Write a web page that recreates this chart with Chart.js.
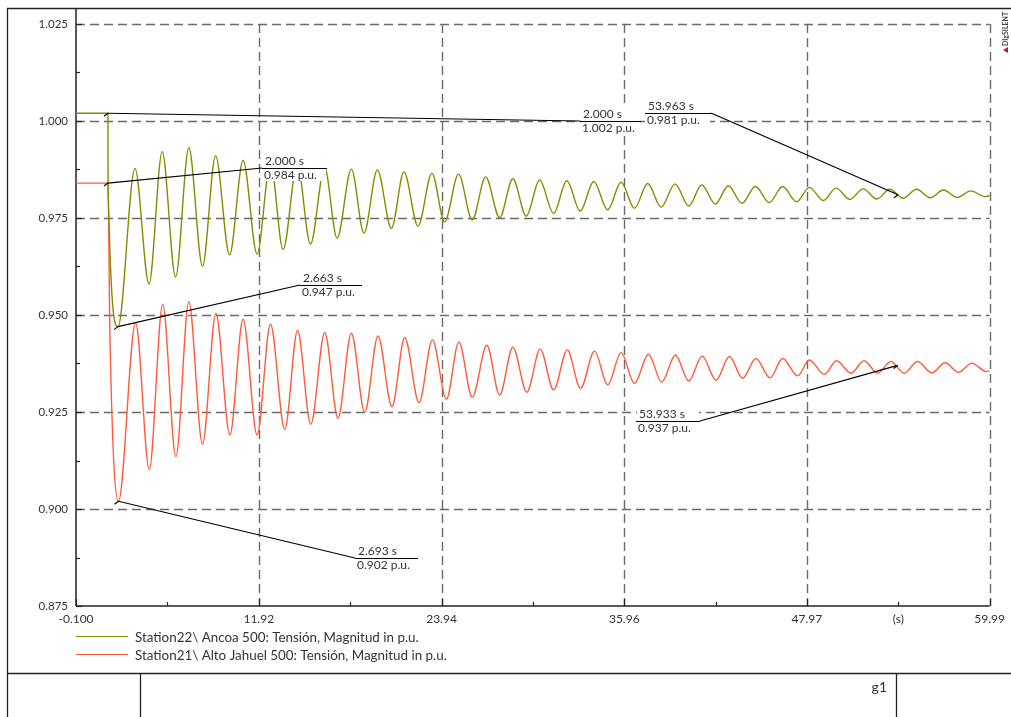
<!DOCTYPE html>
<html>
<head>
<meta charset="utf-8">
<script src="https://cdn.jsdelivr.net/npm/chart.js@4.4.0/dist/chart.umd.min.js"></script>
<style>
  html, body { margin: 0; padding: 0; background: #fff; }
  canvas { display: block; }
</style>
</head>
<body>
<canvas id="plot" width="1011" height="717"></canvas>
<script>
// ---- data (time in s, voltage in p.u.) ----
const seriesNames = [
  "Station22\\ Ancoa 500: Tensión, Magnitud in p.u.",
  "Station21\\ Alto Jahuel 500: Tensión, Magnitud in p.u.",
];

// Ancoa: turning points of the swing
const ancoaT = [
  -0.1, 2.0, 2.01, 2.663, 3.78, 4.70, 5.57, 6.45, 7.32, 8.22, 9.08, 10.00, 10.89, 11.81,
  12.69, 13.52, 14.45, 15.32, 16.25, 17.07, 18.01, 18.84, 19.72, 20.64, 21.47, 22.39,
  23.31, 24.14, 25.06, 25.96, 26.84, 27.76, 28.63, 29.51, 30.39, 31.31, 32.18, 33.06,
  33.95, 34.87, 35.75, 36.63, 37.50, 38.38, 39.30, 40.20, 41.05, 41.95, 42.80, 43.70,
  44.58, 45.50, 46.37, 47.29, 48.13, 49.05, 49.88, 50.80, 51.67, 52.57, 53.43, 54.30,
  55.18, 56.08, 56.95, 57.87, 58.75, 59.69, 59.99,
];
const ancoaV = [
  1.002, 1.002, 0.983, 0.947, 0.9878, 0.9580, 0.9921, 0.9598, 0.9931, 0.9626, 0.9910, 0.9655, 0.9899, 0.9657,
  0.9893, 0.9669, 0.9888, 0.9683, 0.9880, 0.9698, 0.9876, 0.9711, 0.9874, 0.9723, 0.9869, 0.9729,
  0.9865, 0.9740, 0.9863, 0.9745, 0.9856, 0.9751, 0.9851, 0.9755, 0.9848, 0.9762, 0.9846, 0.9768,
  0.9844, 0.9771, 0.9842, 0.9775, 0.9839, 0.9778, 0.9838, 0.9781, 0.9835, 0.9786, 0.9833, 0.9788,
  0.9831, 0.9790, 0.9831, 0.9792, 0.9829, 0.9795, 0.9827, 0.9798, 0.9825, 0.9799, 0.9824, 0.9801,
  0.9824, 0.9802, 0.9822, 0.9803, 0.9820, 0.9805, 0.9808,
];

// Alto Jahuel
const jahuelT = [
  -0.1, 2.0, 2.13, 2.693, 3.82, 4.72, 5.60, 6.47, 7.32, 8.22, 9.10, 10.02, 10.89, 11.81,
  12.69, 13.63, 14.47, 15.34, 16.26, 17.13, 18.01, 18.89, 19.76, 20.68, 21.52, 22.46,
  23.34, 24.26, 25.08, 25.96, 26.92, 27.76, 28.63, 29.55, 30.43, 31.31, 32.21, 33.08,
  34.00, 34.87, 35.75, 36.63, 37.55, 38.42, 39.32, 40.20, 41.08, 42.00, 42.87, 43.74,
  44.62, 45.54, 46.37, 47.36, 48.13, 49.11, 49.92, 50.87, 51.74, 52.61, 53.49, 54.37,
  55.24, 56.19, 57.06, 57.94, 58.81, 59.77, 59.99,
];
const jahuelV = [
  0.984, 0.984, 0.945, 0.902, 0.9480, 0.9102, 0.9528, 0.9135, 0.9534, 0.9167, 0.9504, 0.9191, 0.9489, 0.9191,
  0.9476, 0.9205, 0.9460, 0.9218, 0.9455, 0.9234, 0.9453, 0.9249, 0.9446, 0.9264, 0.9442, 0.9274,
  0.9436, 0.9283, 0.9430, 0.9288, 0.9422, 0.9294, 0.9417, 0.9301, 0.9412, 0.9307, 0.9410, 0.9311,
  0.9407, 0.9320, 0.9403, 0.9324, 0.9399, 0.9327, 0.9397, 0.9330, 0.9394, 0.9332, 0.9393, 0.9337,
  0.9388, 0.9338, 0.9388, 0.9343, 0.9384, 0.9347, 0.9382, 0.9350, 0.9382, 0.9350, 0.9380, 0.9350,
  0.9380, 0.9351, 0.9377, 0.9352, 0.9376, 0.9354, 0.9356,
];

// cursor readouts shown on the plot: time, value
const markerT = [2.000, 2.000, 2.663, 2.693, 53.963, 53.933];
const markerV = [1.002, 0.984, 0.947, 0.902, 0.981, 0.937];

const xTickValues = [-0.1, 11.92, 23.94, 35.96, 47.97, 53.98, 59.99];
const xTickLabels = ["-0.100", "11.92", "23.94", "35.96", "47.97", "(s)", "59.99"];
const xGrid = [11.92, 23.94, 35.96, 47.97, 59.99];
const xMinor = [5.91, 17.93, 29.95, 41.965, 53.98];
const yTickValues = [0.875, 0.900, 0.925, 0.950, 0.975, 1.000, 1.025];
const yTickLabels = ["0.875", "0.900", "0.925", "0.950", "0.975", "1.000", "1.025"];
const yGrid = [0.900, 0.925, 0.950, 0.975, 1.000, 1.025];
const yMinor = [0.8875, 0.9125, 0.9375, 0.9625, 0.9875, 1.0125];

const COLORS = ["#8a8a00", "#ff5a3c"];
const TEXT = "#333";
const FONT = "Lato, 'Open Sans', sans-serif";

// where each readout box sits (pixels): underline start x, y, width, leader side
const LABEL_BOX = [
  { ux: 580, uy: 121, w: 61, side: "left" },
  { ux: 262, uy: 168, w: 65, side: "left" },
  { ux: 300, uy: 285, w: 62, side: "left" },
  { ux: 355, uy: 558, w: 63, side: "left" },
  { ux: 645, uy: 113, w: 66, side: "right" },
  { ux: 636, uy: 421, w: 64, side: "right" },
];

function zip(ts, vs) {
  return ts.map((t, i) => ({ x: t, y: vs[i] }));
}

function seg(ctx, x1, y1, x2, y2) {
  ctx.beginPath();
  ctx.moveTo(x1, y1);
  ctx.lineTo(x2, y2);
  ctx.stroke();
}

const decorations = {
  id: "decorations",
  beforeDatasetsDraw(chart) {
    const { ctx, chartArea: a, scales: { x, y } } = chart;
    ctx.save();
    // dashed grid
    ctx.strokeStyle = "#6a6a6a";
    ctx.lineWidth = 1.4;
    ctx.setLineDash([9, 5]);
    xGrid.forEach((v) => {
      const px = Math.round(x.getPixelForValue(v)) + 0.5;
      seg(ctx, px, a.top, px, a.bottom);
    });
    yGrid.forEach((v) => {
      const py = Math.round(y.getPixelForValue(v)) + 0.5;
      seg(ctx, a.left, py, a.right, py);
    });
    ctx.setLineDash([]);
    // axes
    ctx.strokeStyle = "#222";
    ctx.lineWidth = 1.5;
    seg(ctx, a.left, 8, a.left, a.bottom);
    seg(ctx, a.left, a.bottom, a.right, a.bottom);
    // tick marks, drawn inward
    ctx.lineWidth = 1.2;
    xTickValues.forEach((v, i) => {
      if (xTickLabels[i] === "(s)") return;
      const px = Math.round(x.getPixelForValue(v)) + 0.5;
      seg(ctx, px, a.bottom, px, a.bottom - 7);
    });
    xMinor.forEach((v) => {
      const px = Math.round(x.getPixelForValue(v)) + 0.5;
      seg(ctx, px, a.bottom, px, a.bottom - 4);
    });
    yTickValues.forEach((v) => {
      const py = Math.round(y.getPixelForValue(v)) + 0.5;
      seg(ctx, a.left, py, a.left + 6, py);
    });
    yMinor.forEach((v) => {
      const py = Math.round(y.getPixelForValue(v)) + 0.5;
      seg(ctx, a.left, py, a.left + 4, py);
    });
    ctx.restore();
  },
  afterDraw(chart) {
    const { ctx, scales: { x, y } } = chart;
    ctx.save();

    // cursor readouts
    ctx.font = "12px " + FONT;
    ctx.textBaseline = "middle";
    markerT.forEach((t, i) => {
      const px = x.getPixelForValue(t);
      const py = y.getPixelForValue(markerV[i]);
      const b = LABEL_BOX[i];
      const lx = b.side === "left" ? b.ux : b.ux + b.w;
      ctx.strokeStyle = "#000";
      ctx.lineWidth = 1.2;
      seg(ctx, px, py, lx, b.uy);
      seg(ctx, px - 4, py + 3, px, py);
      ctx.fillStyle = "#fff";
      ctx.fillRect(b.ux + 1, b.uy - 13, b.w - 2, 26);
      seg(ctx, b.ux, b.uy + 0.5, b.ux + b.w, b.uy + 0.5);
      ctx.fillStyle = TEXT;
      ctx.fillText(t.toFixed(3) + " s", b.ux + 3, b.uy - 6.5);
      ctx.fillText(markerV[i].toFixed(3) + " p.u.", b.ux + 2, b.uy + 7);
    });

    // legend
    ctx.font = "13.4px " + FONT;
    seriesNames.forEach((name, i) => {
      const ly = 636 + i * 18 + 0.5;
      ctx.strokeStyle = COLORS[i];
      ctx.lineWidth = 1.2;
      seg(ctx, 76, ly, 128, ly);
      ctx.fillStyle = TEXT;
      ctx.fillText(name, 135, ly + 1);
    });

    // page frame and title block
    ctx.strokeStyle = "#222";
    ctx.lineWidth = 1.3;
    seg(ctx, 7.5, 8, 7.5, 717);
    seg(ctx, 7, 8.5, 1011, 8.5);
    seg(ctx, 7, 673.5, 1011, 673.5);
    seg(ctx, 140.5, 673, 140.5, 717);
    seg(ctx, 896.5, 673, 896.5, 717);
    ctx.font = "14px " + FONT;
    ctx.fillStyle = TEXT;
    ctx.textAlign = "right";
    ctx.fillText("g1", 887, 687);

    // logo strip
    ctx.save();
    ctx.translate(1006, 46);
    ctx.rotate(-Math.PI / 2);
    ctx.font = "bold 7px " + FONT;
    ctx.textAlign = "left";
    ctx.fillStyle = "#444";
    ctx.fillText("DIgSILENT", 0, 0);
    ctx.restore();
    ctx.fillStyle = "#b0202a";
    ctx.beginPath();
    ctx.moveTo(1008, 47);
    ctx.lineTo(1003, 50);
    ctx.lineTo(1008, 53);
    ctx.fill();

    ctx.restore();
  },
};

new Chart(document.getElementById("plot"), {
  type: "line",
  data: {
    datasets: [
      { label: seriesNames[0], data: zip(ancoaT, ancoaV), borderColor: COLORS[0] },
      { label: seriesNames[1], data: zip(jahuelT, jahuelV), borderColor: COLORS[1] },
    ].map((d) => ({
      ...d,
      borderWidth: 1.4,
      pointRadius: 0,
      fill: false,
      cubicInterpolationMode: "monotone",
    })),
  },
  options: {
    responsive: false,
    animation: false,
    devicePixelRatio: 1,
    layout: { padding: { top: 24, right: 21, left: 0, bottom: 0 } },
    plugins: { legend: { display: false }, tooltip: { enabled: false } },
    scales: {
      x: {
        type: "linear",
        min: -0.1,
        max: 59.99,
        afterBuildTicks: (s) => { s.ticks = xTickValues.map((v) => ({ value: v })); },
        afterFit: (s) => { s.height = 111; },
        ticks: {
          autoSkip: false,
          maxRotation: 0,
          padding: 6,
          color: TEXT,
          font: { family: FONT, size: 12 },
          callback: (v, i) => xTickLabels[i],
        },
        grid: { display: false, drawTicks: false },
        border: { display: false },
      },
      y: {
        min: 0.875,
        max: 1.025,
        afterBuildTicks: (s) => { s.ticks = yTickValues.map((v) => ({ value: v })); },
        afterFit: (s) => { s.width = 76; },
        ticks: {
          padding: 8,
          color: TEXT,
          font: { family: FONT, size: 11.5 },
          callback: (v, i) => yTickLabels[i],
        },
        grid: { display: false, drawTicks: false },
        border: { display: false },
      },
    },
  },
  plugins: [decorations],
});
</script>
</body>
</html>
